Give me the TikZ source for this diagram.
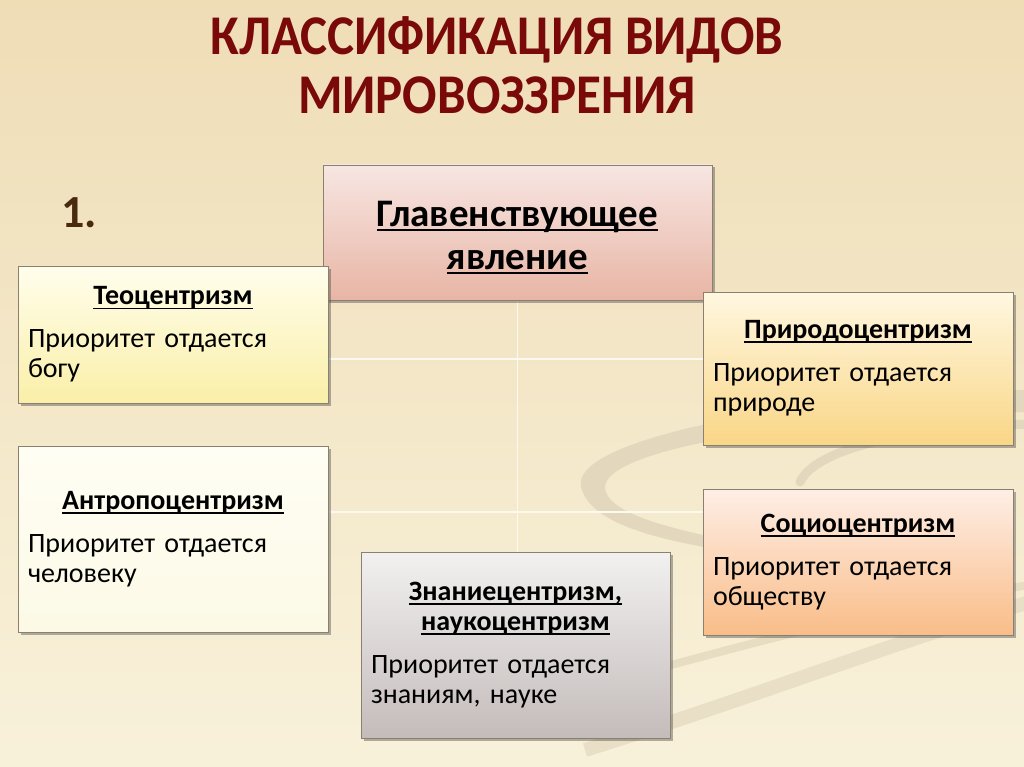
\documentclass[tikz,border=0pt]{standalone}
\usepackage{fontspec}
\setmainfont{Carlito}
\usetikzlibrary{shadows,calc}
\definecolor{bgtop}{HTML}{EFDDB6}
\definecolor{bgmid}{HTML}{F6ECD0}
\definecolor{bgbot}{HTML}{F8F1DA}
\definecolor{swirl}{HTML}{E3D8BD}
\definecolor{titlered}{HTML}{7A0A0A}
\definecolor{numbrown}{HTML}{4A2A0E}
\definecolor{boxborder}{HTML}{8A8070}
\definecolor{connline}{HTML}{FCF9F0}
\definecolor{mainT}{HTML}{F7E6E2}\definecolor{mainB}{HTML}{E8B5A5}
\definecolor{teoT}{HTML}{FFFEEC}\definecolor{teoB}{HTML}{FAEFA8}
\definecolor{antT}{HTML}{FFFEF4}\definecolor{antB}{HTML}{FCF9E6}
\definecolor{priT}{HTML}{FFF7E0}\definecolor{priB}{HTML}{F9D687}
\definecolor{socT}{HTML}{FEEEE6}\definecolor{socB}{HTML}{F9BD88}
\definecolor{znT}{HTML}{F2F0F0}\definecolor{znB}{HTML}{C4BCBB}
\newcommand\myul[1]{\setbox0\hbox{#1}\rlap{\rule[-4.5pt]{\wd0}{1.8pt}}\box0}
\pgfdeclarelayer{bg}
\pgfdeclarelayer{mid}
\pgfsetlayers{bg,mid,main}
\begin{document}
\begin{tikzpicture}[x=1pt,y=-1pt,
  box/.style={draw=boxborder, line width=0.8pt, rectangle, inner sep=0pt,
    drop shadow={shadow xshift=2.5pt,shadow yshift=-2.5pt,opacity=0.4,fill=black!75},
    font=\fontsize{28}{30}\selectfont, align=left},
  conn/.style={draw=connline, line width=1.1pt}]
\useasboundingbox (0,0) rectangle (1024,767);
\begin{pgfonlayer}{bg}
\shade[top color=bgtop, middle color=bgmid, bottom color=bgbot] (0,0) rectangle (1024,767);
% background swirl
\fill[swirl] (1024,390) .. controls (800,396) and (570,438) .. (581,487)
   .. controls (592,530) and (680,544) .. (770,558)
   -- (770,548) .. controls (680,532) and (604,515) .. (605,486)
   .. controls (610,448) and (800,418) .. (1024,412) -- cycle;
\draw[swirl, line width=9pt, line cap=round] (1030,424) .. controls (900,428) and (815,450) .. (800,482);
\draw[swirl!70!bgbot, line width=14pt] (585,750) .. controls (760,695) and (900,640) .. (1030,602);
\draw[swirl!80!bgbot, line width=8pt] (660,668) .. controls (800,630) and (920,600) .. (1030,585);
\end{pgfonlayer}
% title
\node[font=\fontsize{51}{59}\selectfont\bfseries, text=titlered, align=center] (title) at (497,65)
  {\scalebox{1}[1.1]{КЛАССИФИКАЦИЯ ВИДОВ}\\\scalebox{1}[1.1]{МИРОВОЗЗРЕНИЯ}};
\node[font=\fontsize{46}{46}\selectfont\bfseries, text=numbrown] (num) at (79,213) {1.};
% boxes
\node[box, minimum width=389pt, minimum height=135pt, top color=mainT, bottom color=mainB,
  font=\fontsize{39}{43}\selectfont\bfseries, align=center] (main) at (517.5,232.5)
  {\rule{0pt}{36pt}\myul{Главенствующее}\\\myul{явление}};
\node[box, minimum width=310pt, minimum height=137pt, text width=290pt, top color=teoT, bottom color=teoB]
  (teo) at (173,334.5)
  {\makebox[290pt]{\bfseries\myul{Теоцентризм}}\\[13pt]Приоритет отдается\\богу};
\node[box, minimum width=310pt, minimum height=186pt, text width=290pt, top color=antT, bottom color=antB]
  (ant) at (173,539)
  {\makebox[290pt]{\bfseries\myul{Антропоцентризм}}\\[13pt]Приоритет отдается\\человеку};
\node[box, minimum width=310pt, minimum height=153pt, text width=290pt, top color=priT, bottom color=priB]
  (pri) at (858,368.5)
  {\makebox[290pt]{\bfseries\myul{Природоцентризм}}\\[13pt]Приоритет отдается\\природе};
\node[box, minimum width=310pt, minimum height=146pt, text width=290pt, top color=socT, bottom color=socB]
  (soc) at (858,562)
  {\makebox[290pt]{\bfseries\myul{Социоцентризм}}\\[13pt]Приоритет отдается\\обществу};
\node[box, minimum width=309pt, minimum height=186pt, text width=289pt, top color=znT, bottom color=znB]
  (zn) at (515.5,645)
  {\makebox[289pt]{\bfseries\myul{Знаниецентризм,}}\\\makebox[289pt]{\bfseries\myul{наукоцентризм}}\\[13pt]Приоритет отдается\\знаниям, науке};
% connectors (faint, behind the boxes)
\begin{pgfonlayer}{mid}
\draw[conn] (main.south) -- (main.south |- zn.north);
\draw[conn] ([yshift=-24.5pt]teo.east) -- ([yshift=-24.5pt]teo.east -| pri.west);
\draw[conn] ([yshift=27pt]ant.east) -- ([yshift=27pt]ant.east -| soc.west);
\end{pgfonlayer}
\end{tikzpicture}
\end{document}
